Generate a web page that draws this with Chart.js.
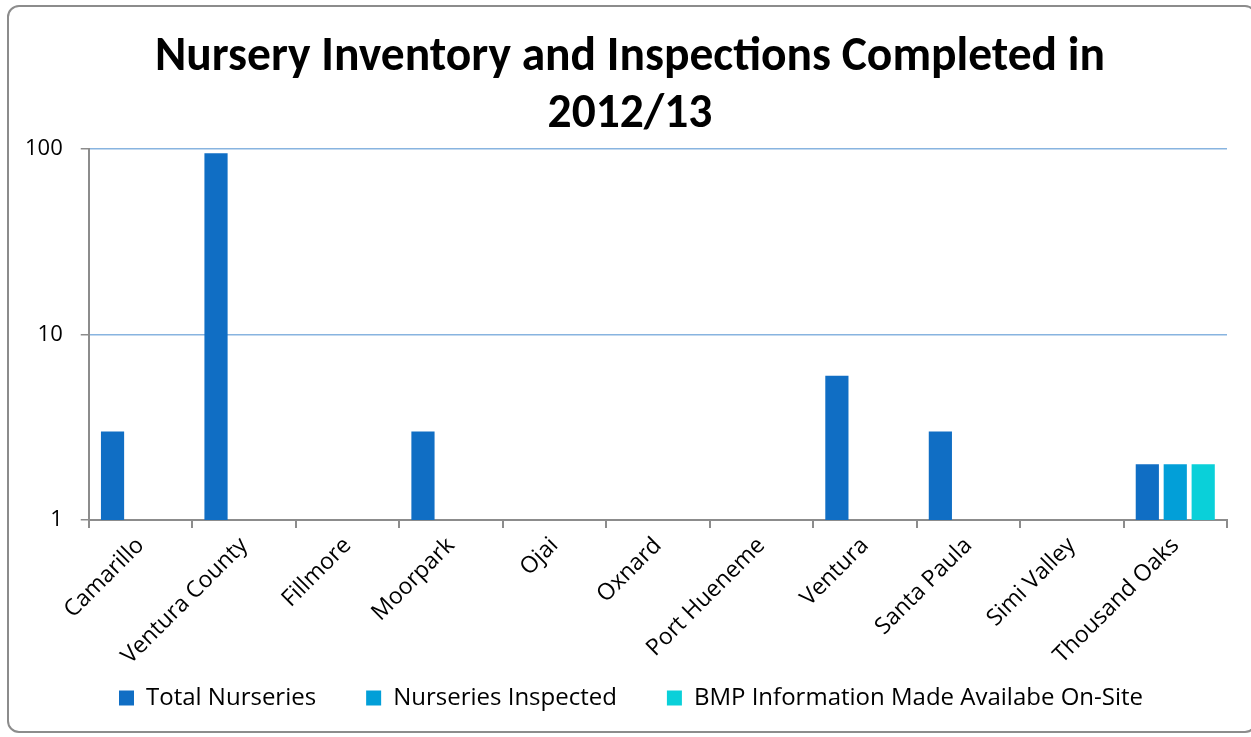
<!DOCTYPE html>
<html>
<head>
<meta charset="utf-8">
<script src="https://cdn.jsdelivr.net/npm/chart.js@4"></script>
<style>
  body { margin: 0; background: #fff; }
  #box {
    position: absolute; left: 7px; top: 5px; width: 1250px; height: 728px;
    border: 2px solid #8c8c8c; border-radius: 12px; box-sizing: border-box; overflow: hidden;
  }
  #wrap { position: absolute; left: 0; top: 0; width: 1246px; height: 724px; }
</style>
</head>
<body>
<div id="box"><div id="wrap"><canvas id="myChart"></canvas></div></div>
<script>
var cities = ["Camarillo", "Ventura County", "Fillmore", "Moorpark", "Ojai", "Oxnard", "Port Hueneme", "Ventura", "Santa Paula", "Simi Valley", "Thousand Oaks"];
var totalNurseries = [3, 95, null, 3, null, null, null, 6, 3, null, 2];
var nurseriesInspected = [null, null, null, null, null, null, null, null, null, null, 2];
var bmpInfo = [null, null, null, null, null, null, null, null, null, null, 2];
var yTicks = [1, 10, 100];

var ctx = document.getElementById("myChart").getContext('2d');
Chart.defaults.font.family = "'Open Sans', sans-serif";
Chart.defaults.color = '#000';

// legend keeps wide item spacing but sits closer under the rotated labels
var nudgeBoxes = {
    id: 'nudgeBoxes',
    afterLayout: function (chart) {
        var lg = chart.legend, t = chart.titleBlock;
        lg.top -= 38; lg.bottom -= 38;
        lg.left += 14; lg.right += 14;
        t.left += 13; t.right += 13;
    }
};

var myChart = new Chart(ctx, {
    type: 'bar',
    data: {
        labels: cities,
        datasets: [{
            label: 'Total Nurseries',
            data: totalNurseries,
            backgroundColor: '#106ec4'
        }, {
            label: 'Nurseries Inspected',
            data: nurseriesInspected,
            backgroundColor: '#029fd8'
        }, {
            label: 'BMP Information Made Availabe On-Site',
            data: bmpInfo,
            backgroundColor: '#0ad0d9'
        }]
    },
    options: {
        responsive: true,
        maintainAspectRatio: false,
        animation: false,
        categoryPercentage: 0.81,
        barPercentage: 0.83,
        layout: { padding: { left: -2, right: 28, top: 8, bottom: -27 } },
        plugins: {
            title: {
                display: true,
                text: ['Nursery Inventory and Inspections Completed in', '2012/13'],
                font: { family: 'Carlito, Lato, sans-serif', size: 47.5, weight: 'bold' },
                padding: { top: 15, bottom: 5 },
                lineHeight: 1.21
            },
            legend: {
                position: 'bottom',
                labels: { boxWidth: 15, boxHeight: 15, font: { size: 24 }, padding: 50 }
            },
            tooltip: { enabled: false }
        },
        scales: {
            x: {
                grid: { offset: true, drawOnChartArea: false, color: '#8c8c8c', tickLength: 8, lineWidth: 2 },
                border: { color: '#8c8c8c', width: 2 },
                ticks: { maxRotation: 45, minRotation: 45, font: { size: 23 }, padding: 4 }
            },
            y: {
                type: 'logarithmic',
                min: 1,
                max: 100,
                afterBuildTicks: function (axis) {
                    axis.ticks = yTicks.map(function (v) { return { value: v }; });
                },
                ticks: {
                    font: { size: 22 },
                    padding: 18,
                    callback: function (v) { return String(v); }
                },
                grid: { color: '#88b4e0', tickColor: '#8c8c8c', tickLength: 8, lineWidth: 1.5 },
                border: { color: '#8c8c8c', width: 2 }
            }
        }
    },
    plugins: [nudgeBoxes]
});
</script>
</body>
</html>
